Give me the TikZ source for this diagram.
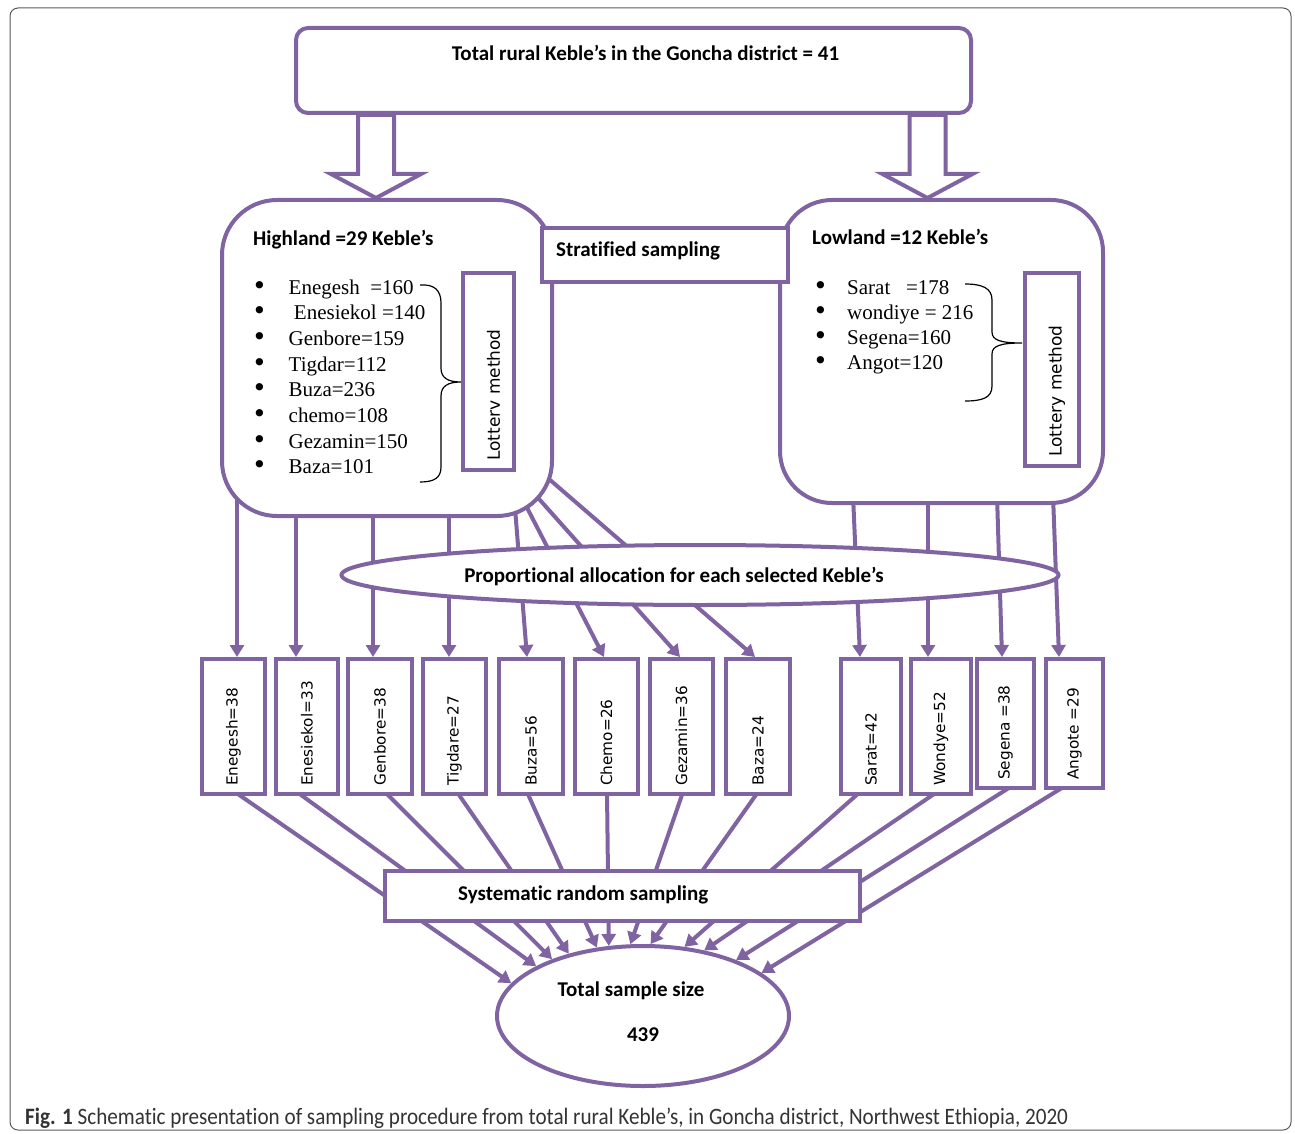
\documentclass[tikz,border=0pt]{standalone}
\usepackage{fontspec}
\setmainfont[Ligatures=NoCommon]{Carlito}
\newfontfamily\listfont{Liberation Serif}
\newfontfamily\boxfont{DejaVu Sans}
\newfontfamily\capfont[FakeStretch=0.9,Ligatures=NoCommon]{Carlito}
\usetikzlibrary{arrows.meta,shapes.geometric,backgrounds,calc}
\definecolor{keblepurple}{RGB}{128,100,162}
\tikzset{
  purp/.style={draw=keblepurple,line width=4pt},
  rbox/.style={purp,fill=white,rounded corners=#1,inner sep=0pt},
  sbox/.style={purp,fill=white,inner sep=0pt},
  ell/.style={ellipse,purp,fill=white,inner sep=0pt},
}
\newcommand{\dotmark}{{\boxfont\fontsize{25}{25}\selectfont •}}
\begin{document}
\begin{tikzpicture}[x=1pt,y=-1pt,
  conn/.style={keblepurple,line width=4pt,-{Triangle[width=14pt,length=12pt]}},
  block/.style={keblepurple,line width=4pt,line join=miter},
  lbl/.style={font=\fontsize{21}{25}\selectfont\bfseries,inner sep=0pt},
  listitem/.style={font=\listfont\fontsize{21}{25}\selectfont,inner sep=0pt,anchor=base west},
  vlabel/.style={font=\boxfont\fontsize{15.3}{18}\selectfont,rotate=90,anchor=west,inner sep=0pt},
  lotlabel/.style={font=\boxfont\fontsize{17}{20}\selectfont,rotate=90,anchor=west,inner sep=0pt},
  curly/.style={black,line width=1.2pt},
  frame/.style={draw=black!65,line width=1pt,rounded corners=8pt},
  caplbl/.style={font=\capfont\fontsize{23.5}{27}\selectfont,text=black!80,inner sep=0pt,anchor=base west},
]
\useasboundingbox (0,0) rectangle (1295,1134);
\draw[frame] (10,8) rectangle (1291,1130);

% top and strata
\node[rbox=12pt,minimum width=675,minimum height=85] (district) at (633.5,70.5) {};
\node[rbox=55pt,minimum width=330,minimum height=316] (highland) at (387,358) {};
\node[rbox=52pt,minimum width=323,minimum height=303] (lowland) at (941.5,351.5) {};
\node[sbox,minimum width=246,minimum height=54] (strat) at (665,255) {};
\node[sbox,minimum width=51,minimum height=197] (lotH) at (488.5,371.5) {};
\node[sbox,minimum width=54,minimum height=193] (lotL) at (1052,369.5) {};

\node[lbl,anchor=base] (districtlbl) at (645.5,61) {Total rural Keble’s in the Goncha district = 41};
\node[lbl,anchor=base west] (highlandlbl) at (253,245) {Highland =29 Keble’s};
\node[lbl,anchor=base west] (lowlandlbl) at (812,244) {Lowland =12 Keble’s};
\node[lbl,anchor=base west] (stratlbl) at (556,256) {Stratified sampling};
\node[lotlabel] (lotHlbl) at ($(lotH.south)+(5,-11)$) {Lotterv method};
\node[lotlabel] (lotLlbl) at ($(lotL.south)+(5,-11)$) {Lottery method};

% hollow arrows
\coordinate (ltip) at ($(highland.north)+(-11,0)$);
\coordinate (rtip) at ($(lowland.north)+(-14,0)$);
\draw[block] (ltip) -- ++(-45,-24) -- ++(27,0) -- ++(0,-59) -- ++(36,0) -- ++(0,59) -- ++(27,0) -- cycle;
\draw[block] (rtip) -- ++(-45,-24) -- ++(27,0) -- ++(0,-59) -- ++(36,0) -- ++(0,59) -- ++(27,0) -- cycle;

% keble lists
\foreach \t [count=\i] in {Enegesh\ \ =160, \ Enesiekol =140, Genbore=159, Tigdar=112, Buza=236, chemo=108, Gezamin=150, Baza=101}
  \node[listitem] (hi\i) at (252,{294+25.7*(\i-1)}) {\makebox[36.5pt][l]{\dotmark}\t};
\foreach \t [count=\i] in {Sarat\ \ \ =178, wondiye = 216, Segena=160, Angot=120}
  \node[listitem] (lo\i) at (813,{294+25.3*(\i-1)}) {\makebox[34pt][l]{\dotmark}\t};

\draw[curly] (420,285) .. controls (434,284) and (441,290) .. (441,303) -- (441,368)
  .. controls (441,378) and (448,382) .. (461,382) .. controls (448,382) and (441,386) .. (441,396)
  -- (441,467) .. controls (441,478) and (434,482) .. (420,482);
\draw[curly] (965,284) .. controls (982,284) and (992,288) .. (992,300) -- (992,332)
  .. controls (992,340) and (1000,343) .. (1022,343) .. controls (1000,343) and (992,346) .. (992,354)
  -- (992,386) .. controls (992,398) and (982,401) .. (965,401);

% allocation
\node[ell,minimum width=717,minimum height=60] (alloc) at (700,575) {};
\node[lbl,anchor=base] (alloclbl) at (674,582) {Proportional allocation for each selected Keble’s};

\foreach \n/\xa/\xb/\yb/\lbl in {1/200/267/796/Enegesh=38, 2/274/340/796/Enesiekol=33,
    3/346/414/796/Genbore=38, 4/421/488/796/Tigdare=27, 5/497/565/796/Buza=56,
    6/573/640/796/Chemo=26, 7/648/715/796/Gezamin=36, 8/724/792/796/Baza=24,
    9/839/903/796/Sarat=42, 10/909/973/796/Wondye=52, 11/975/1036/790/Segena =38,
    12/1044/1105/790/Angote =29}
  {\node[sbox,minimum width=\xb-\xa-4,minimum height=\yb-661] (e\n) at ({(\xa+\xb)/2},{(657+\yb)/2}) {};
   \node[vlabel] (l\n) at ($(e\n.south)+(0,-10)$) {\lbl};}

% sampling
\node[sbox,minimum width=475,minimum height=50] (sys) at (622.5,896) {};
\node[lbl,anchor=base west] (syslbl) at (458,900) {Systematic random sampling};
\node[ell,minimum width=292,minimum height=140] (sample) at (643,1016) {};
\node[lbl,anchor=base] (samplelbl) at (631,996) {Total sample size};
\node[lbl,anchor=base] (samplenum) at (643,1041) {439};

\begin{scope}[on background layer]
  \foreach \n/\sx/\sy/\dx in {1/17/-38/3.5, 2/76/-13/-11, 3/153/-13/-7, 4/229/-13/-5.5,
      5/295/-10/-4, 6/302/-20/-2.5, 7/311/-28/-1.5, 8/322/-45/-3}
    \draw[conn] ($(highland.south west)+(\sx,\sy)$) -- ($(e\n.north)+(\dx,0)$);
  \foreach \n/\sx/\dx in {9/75/-11, 10/150/-13, 11/219/-3.5, 12/275/-15.5}
    \draw[conn] ($(lowland.south west)+(\sx,-10)$) -- ($(e\n.north)+(\dx,0)$);
  \foreach \n/\dx/\a in {1/1.5/166, 2/-10/155, 3/5/148, 4/2.5/140, 5/-4/124, 6/0.5/116,
      7/1.5/100, 8/0/84, 9/-11/59, 10/-4/47, 11/6.5/31, 12/-9.5/20}
    \draw[conn] ($(e\n.south)+(\dx,-4)$) -- (sample.\a);
\end{scope}

\node[caplbl] (caption) at (25,1124) {{\bfseries Fig. 1} Schematic presentation of sampling procedure from total rural Keble’s, in Goncha district, Northwest Ethiopia, 2020};
\end{tikzpicture}
\end{document}
